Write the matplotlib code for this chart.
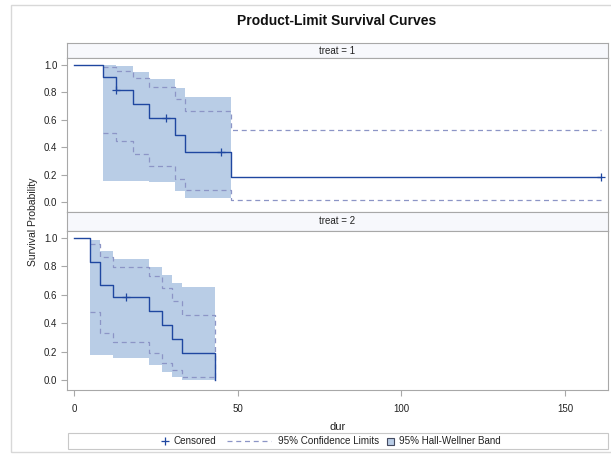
import matplotlib
matplotlib.use("Agg")
import matplotlib.pyplot as plt
from matplotlib.lines import Line2D
from matplotlib.patches import Rectangle

plt.rcParams['font.family'] = ['Liberation Sans', 'DejaVu Sans']

# ---- data: treat = 1 ----
t1_times = [0, 9, 13, 18, 23, 31, 34, 48, 161]
t1_surv = [1.0, 0.909, 0.818, 0.716, 0.614, 0.491, 0.368, 0.184, 0.184]
t1_cens_t = [13, 28, 45, 161]
t1_cens_s = [0.818, 0.614, 0.368, 0.184]
t1_ci_times = [9, 13, 18, 23, 31, 34, 48, 161]
t1_ci_upper = [0.987, 0.957, 0.901, 0.838, 0.753, 0.662, 0.530, 0.530]
t1_ci_lower = [0.508, 0.450, 0.353, 0.268, 0.170, 0.091, 0.017, 0.017]
t1_band_times = [9, 13, 18, 23, 31, 34, 48]
t1_band_upper = [1.0, 0.99, 0.95, 0.897, 0.83, 0.765, 0.765]
t1_band_lower = [0.158, 0.158, 0.158, 0.146, 0.081, 0.034, 0.034]

# ---- data: treat = 2 ----
t2_times = [0, 5, 8, 12, 23, 27, 30, 33, 43]
t2_surv = [1.0, 0.833, 0.667, 0.583, 0.486, 0.389, 0.292, 0.194, 0.0]
t2_cens_t = [16]
t2_cens_s = [0.583]
t2_ci_times = [5, 8, 12, 23, 27, 30, 33, 43]
t2_ci_upper = [0.96, 0.866, 0.797, 0.734, 0.648, 0.557, 0.457, 0.0]
t2_ci_lower = [0.476, 0.332, 0.265, 0.189, 0.122, 0.069, 0.022, 0.0]
t2_band_times = [5, 8, 12, 23, 27, 30, 33, 43]
t2_band_upper = [0.988, 0.912, 0.856, 0.797, 0.737, 0.682, 0.658, 0.658]
t2_band_lower = [0.179, 0.179, 0.155, 0.108, 0.060, 0.024, 0.002, 0.002]

panel_labels = ['treat = 1', 'treat = 2']
x_ticks = [0, 50, 100, 150]
y_ticks = [0.0, 0.2, 0.4, 0.6, 0.8, 1.0]
legend_labels = ['Censored', '95% Confidence Limits', '95% Hall-Wellner Band']

W, H = 611, 463
fig = plt.figure(figsize=(W / 100, H / 100), dpi=100)
fig.patch.set_facecolor('white')

def rect(x, y, w, h):
    return [x / W, 1 - (y + h) / H, w / W, h / H]

def fx(x):
    return x / W

def fy(y):
    return 1 - y / H

# outer frame
fig.patches.append(Rectangle((fx(11), fy(452)), 620 / W, 447 / H,
                             transform=fig.transFigure, fill=False,
                             edgecolor='#d8d8d8', linewidth=1.0))

fig.text(fx(337), fy(21), 'Product-Limit Survival Curves', ha='center',
         va='center', fontsize=10, fontweight='bold', color='#111111')

line_c = '#1f47a0'
band_c = '#b9cde6'
ci_c = '#8c95c6'
spine_c = '#a8a8a8'
text_c = '#222222'

panels = [
    dict(times=t1_times, surv=t1_surv, ct=t1_cens_t, cs=t1_cens_s,
         cit=t1_ci_times, ciu=t1_ci_upper, cil=t1_ci_lower,
         bt=t1_band_times, bu=t1_band_upper, bl=t1_band_lower,
         strip=(67, 43, 541, 15), area=(67, 58, 541, 154)),
    dict(times=t2_times, surv=t2_surv, ct=t2_cens_t, cs=t2_cens_s,
         cit=t2_ci_times, ciu=t2_ci_upper, cil=t2_ci_lower,
         bt=t2_band_times, bu=t2_band_upper, bl=t2_band_lower,
         strip=(67, 212, 541, 19), area=(67, 231, 541, 159)),
]

for i, p in enumerate(panels):
    sx = fig.add_axes(rect(*p['strip']))
    sx.set_facecolor('#f7f8fc')
    sx.set_xticks([]); sx.set_yticks([])
    for s in sx.spines.values():
        s.set_color(spine_c); s.set_linewidth(0.8)
    sx.text(0.5, 0.5, panel_labels[i], ha='center', va='center',
            fontsize=7, transform=sx.transAxes, color=text_c)

    ax = fig.add_axes(rect(*p['area']))
    ax.fill_between(p['bt'], p['bl'], p['bu'], step='post', color=band_c,
                    linewidth=0)
    ax.step(p['cit'], p['ciu'], where='post', color=ci_c, linestyle=(0, (4, 3)),
            linewidth=0.9)
    ax.step(p['cit'], p['cil'], where='post', color=ci_c, linestyle=(0, (4, 3)),
            linewidth=0.9)
    ax.step(p['times'], p['surv'], where='post', color=line_c, linewidth=1.0)
    ax.plot(p['ct'], p['cs'], linestyle='none', marker='+', color=line_c,
            markersize=5.5, markeredgewidth=0.9)
    ax.set_xlim(-2.1, 163.1)
    ax.set_ylim(-0.07, 1.05)
    ax.set_yticks(y_ticks)
    ax.set_yticklabels(['%.1f' % v for v in y_ticks])
    ax.tick_params(axis='y', direction='out', length=4, width=0.8,
                   color=spine_c, labelsize=7, labelcolor=text_c, pad=3)
    for s in ax.spines.values():
        s.set_color(spine_c); s.set_linewidth(0.8)
    if i == 0:
        ax.set_xticks([])
    else:
        ax.set_xticks(x_ticks)
        ax.tick_params(axis='x', direction='out', length=4, width=0.8,
                       color=spine_c, labelsize=7, labelcolor=text_c, pad=6)
        ax.set_xlabel('dur', fontsize=8, color=text_c, labelpad=6)

fig.text(fx(33), fy(222), 'Survival Probability', rotation=90,
         ha='center', va='center', fontsize=7.5, color=text_c)

# legend (drawn manually to match layout)
ly = fy(441)
fs_leg = 7.1
fig.patches.append(Rectangle((fx(68), fy(449)), 540 / W, 16 / H,
                             transform=fig.transFigure, fill=False,
                             edgecolor='#c8c8c8', linewidth=0.8))
fig.add_artist(Line2D([fx(165)], [ly], transform=fig.transFigure,
                      linestyle='none', marker='+', color=line_c,
                      markersize=5.5, markeredgewidth=0.9))
fig.text(fx(174), ly, legend_labels[0], ha='left', va='center', fontsize=fs_leg,
         color=text_c)
fig.add_artist(Line2D([fx(227), fx(271)], [ly, ly], transform=fig.transFigure,
                      color=ci_c, linestyle=(0, (4, 3)), linewidth=0.9))
fig.text(fx(278), ly, legend_labels[1], ha='left', va='center', fontsize=fs_leg,
         color=text_c)
fig.patches.append(Rectangle((fx(387), fy(445)), 7 / W, 7 / H,
                             transform=fig.transFigure, facecolor=band_c,
                             edgecolor='#444a60', linewidth=0.8))
fig.text(fx(399), ly, legend_labels[2], ha='left', va='center', fontsize=fs_leg,
         color=text_c)

fig.savefig('out.png', dpi=100)
